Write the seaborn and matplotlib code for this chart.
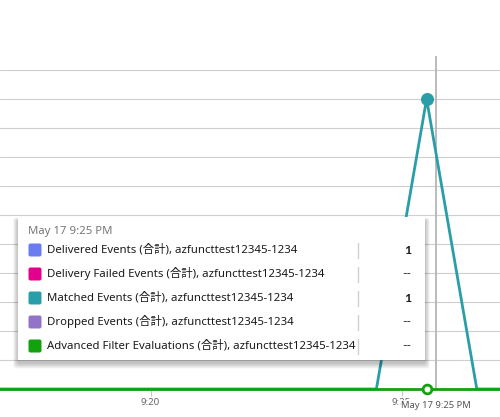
import matplotlib
matplotlib.use('Agg')
import matplotlib.pyplot as plt
import seaborn as sns
import pandas as pd
from matplotlib.patches import FancyBboxPatch

# minutes after 9:00 PM (points sit at mid-minute)
minutes = [16.5, 17.5, 18.5, 19.5, 20.5, 21.5, 22.5, 23.5, 24.5, 25.5, 26.5, 27.5]
matched = [0, 0, 0, 0, 0, 0, 0, 0, 0, 1, 0, 0]
adv_filter = [0, 0, 0, 0, 0, 0, 0, 0, 0, 0, 0, 0]

series_names = ['Delivered Events', 'Delivery Failed Events', 'Matched Events',
                'Dropped Events', 'Advanced Filter Evaluations']
series_colors = ['#6b7bf0', '#e3008c', '#2a9ea8', '#9373c7', '#13a10e']
tooltip_values = ['1', '--', '1', '--', '--']
resource = 'azfuncttest12345-1234'
tick_minutes = [20, 25]
tick_labels = ['9:20', '9:25']
hover_minute = 25.5
cursor_minute = 25.68
hover_label = 'May 17 9:25 PM'

df = pd.concat([
    pd.DataFrame({'minute': minutes, 'value': matched, 'series': 'Matched Events'}),
    pd.DataFrame({'minute': minutes, 'value': adv_filter, 'series': 'Advanced Filter Evaluations'}),
])
palette = dict(zip(series_names, series_colors))

sns.set_style('white')
plt.rcParams['font.family'] = ['Noto Sans', 'Noto Sans CJK JP', 'DejaVu Sans']

fig = plt.figure(figsize=(5, 4.17), dpi=100)
renderer = fig.canvas.get_renderer()


def fit_size(text, width_px, start=9.0):
    # scale font size so the rendered text is about width_px wide
    t = fig.text(0, 0, text, fontsize=start)
    w = t.get_window_extent(renderer).width
    t.remove()
    return start * width_px / w


ax = fig.add_axes([0, 0, 1, 1])

ax.set_yticks([i / 10 for i in range(0, 12)])
ax.grid(axis='y', color='#cfcfcf', linewidth=0.8)
ax.grid(axis='x', visible=False)
ax.set_axisbelow(True)

ax.vlines(cursor_minute, 0, 1.148, color='#b5b5b5', linewidth=1.3, zorder=2)

sns.lineplot(data=df, x='minute', y='value', hue='series', palette=palette,
             linewidth=2, legend=False, ax=ax, zorder=3)
# hover markers
ax.scatter([hover_minute], [matched[minutes.index(hover_minute)]], s=70,
           color=palette['Matched Events'], zorder=4)
ax.scatter([hover_minute], [adv_filter[minutes.index(hover_minute)]], s=40,
           facecolor='white', edgecolor=palette['Advanced Filter Evaluations'],
           linewidth=2, zorder=5)

ax.set_xlim(17.002, 26.962)
ax.set_ylim(-0.0966, 1.3414)
for s in ax.spines.values():
    s.set_visible(False)
ax.spines['bottom'].set_position(('data', 0))
ax.set_xticks(tick_minutes)
ax.set_xticklabels(tick_labels)
ax.tick_params(axis='x', bottom=True, length=5, width=0.8, color='#c8c8c8',
               labelsize=fit_size(tick_labels[0], 19), labelcolor='#666666', pad=1.5)
ax.tick_params(axis='y', left=False, labelleft=False)
ax.set_xlabel('')
ax.set_ylabel('')

ax.text(cursor_minute, -0.058, hover_label, ha='center', va='center',
        fontsize=fit_size(hover_label, 70), color='#555555', zorder=6,
        bbox=dict(boxstyle='square,pad=0.15', facecolor='white', edgecolor='none', alpha=0.85))

# tooltip overlay in pixel coordinates
ov = fig.add_axes([0, 0, 1, 1])
ov.set_xlim(0, 500)
ov.set_ylim(417, 0)
ov.axis('off')

bx0, by0, bx1, by1 = 18, 217, 425, 360
for i in range(8, 0, -1):
    ov.add_patch(FancyBboxPatch((bx0 - i * 0.6, by0 - i * 0.3 + 3), bx1 - bx0 + i * 1.2,
                                by1 - by0 + i * 1.0, boxstyle='round,pad=0,rounding_size=3',
                                facecolor='black', edgecolor='none', alpha=0.03))
ov.add_patch(FancyBboxPatch((bx0, by0), bx1 - bx0, by1 - by0, boxstyle='square,pad=0',
                            facecolor='white', edgecolor='none'))

ov.text(28, 231, hover_label, fontsize=fit_size(hover_label, 84), color='#777777',
        va='center', ha='left')
row_size = fit_size(f'{series_names[0]} (合計), {resource}', 249)
row_y = [250, 274, 298, 322, 346]
for y, name, col, val in zip(row_y, series_names, series_colors, tooltip_values):
    ov.add_patch(FancyBboxPatch((28.5, y - 6.5), 13, 13,
                                boxstyle='round,pad=0,rounding_size=2',
                                facecolor=col, edgecolor='none'))
    ov.text(47, y, f'{name} (合計), {resource}', fontsize=row_size, color='#1a1a1a',
            va='center', ha='left')
    ov.plot([358, 358], [y - 7, y + 8], color='#d0d0d0', linewidth=1)
    ov.text(411.5, y, val, fontsize=row_size * 1.08, color='#1a1a1a', va='center',
            ha='right', family=['Lato', 'DejaVu Sans'],
            fontweight='bold' if val != '--' else 'normal')

fig.savefig('out.png', dpi=100)
